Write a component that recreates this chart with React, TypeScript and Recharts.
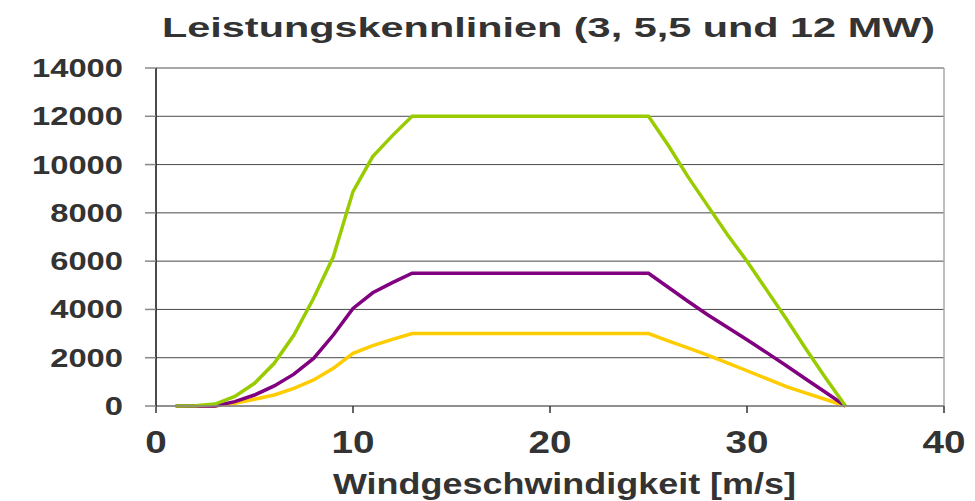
import { LineChart, Line, XAxis, YAxis, CartesianGrid, ReferenceLine } from "recharts";

// Windgeschwindigkeit in m/s
const speeds = [
  1, 2, 3, 4, 5, 6, 7, 8, 9, 10, 11, 12, 13, 14, 15, 16, 17, 18,
  19, 20, 21, 22, 23, 24, 25, 26, 27, 28, 29, 30, 31, 32, 33, 34, 35,
];

// Leistung in kW
const power12MW = [
  0, 10, 80, 400, 940, 1770, 2940, 4460, 6180, 8880, 10330, 11200, 12000, 12000, 12000, 12000, 12000, 12000,
  12000, 12000, 12000, 12000, 12000, 12000, 12000, 10800, 9500, 8300, 7100, 6000, 4800, 3600, 2350, 1150, 0,
];
const power55MW = [
  0, 0, 0, 180, 455, 830, 1320, 1970, 2940, 4040, 4690, 5110, 5500, 5500, 5500, 5500, 5500, 5500,
  5500, 5500, 5500, 5500, 5500, 5500, 5500, 4920, 4340, 3780, 3260, 2740, 2210, 1670, 1110, 560, 0,
];
const power3MW = [
  0, 0, 0, 110, 280, 455, 730, 1080, 1560, 2180, 2500, 2760, 3000, 3000, 3000, 3000, 3000, 3000,
  3000, 3000, 3000, 3000, 3000, 3000, 3000, 2700, 2410, 2110, 1790, 1460, 1130, 800, 530, 270, 0,
];

const xTicks = [0, 10, 20, 30, 40];
const yTicks = [0, 2000, 4000, 6000, 8000, 10000, 12000, 14000];

const title = "Leistungskennlinien (3, 5,5 und 12 MW)";
const xTitle = "Windgeschwindigkeit [m/s]";

const data = speeds.map((x, i) => ({
  x,
  p3: power3MW[i],
  p55: power55MW[i],
  p12: power12MW[i],
}));

const FONT = "'Liberation Sans', Arial, sans-serif";
const TEXT = "#333333";

function YTick({ y, payload }: any) {
  const s = String(payload.value);
  return (
    <text
      x={123}
      y={y + 9}
      textAnchor="end"
      fontFamily={FONT}
      fontWeight="bold"
      fontSize={25}
      fill={TEXT}
      textLength={s.length * 18.2}
      lengthAdjust="spacingAndGlyphs"
    >
      {s}
    </text>
  );
}

function XTick({ x, payload }: any) {
  const s = String(payload.value);
  return (
    <text
      x={x}
      y={453}
      textAnchor="middle"
      fontFamily={FONT}
      fontWeight="bold"
      fontSize={32}
      fill={TEXT}
      textLength={s.length * 21.5}
      lengthAdjust="spacingAndGlyphs"
    >
      {s}
    </text>
  );
}

export default function App() {
  return (
    <div style={{ position: "absolute", left: 0, top: 0, width: 975, height: 501, background: "#fff" }}>
      <LineChart
        width={975}
        height={501}
        data={data}
        margin={{ top: 68, right: 31, bottom: 55, left: 76 }}
      >
        <CartesianGrid horizontal vertical={false} stroke="#4a4a4a" strokeWidth={1} />
        <XAxis
          type="number"
          dataKey="x"
          domain={[0, 40]}
          ticks={xTicks}
          height={40}
          tickSize={7}
          axisLine={{ stroke: "#8a8a8a", strokeWidth: 1.5 }}
          tickLine={{ stroke: "#333", strokeWidth: 1.5 }}
          tick={<XTick />}
          interval={0}
        />
        <YAxis
          type="number"
          domain={[0, 14000]}
          ticks={yTicks}
          width={80}
          tickSize={11}
          axisLine={{ stroke: "#111", strokeWidth: 1.5 }}
          tickLine={{ stroke: "#888", strokeWidth: 1.5 }}
          tick={<YTick />}
          interval={0}
        />
        <ReferenceLine y={14000} stroke="#a8a8a8" strokeWidth={1.5} />
        <ReferenceLine x={40} stroke="#a8a8a8" strokeWidth={1.5} />
        <Line type="linear" dataKey="p3" stroke="#FFCC00" strokeWidth={3.5} dot={false} isAnimationActive={false} />
        <Line type="linear" dataKey="p55" stroke="#800080" strokeWidth={3.5} dot={false} isAnimationActive={false} />
        <Line type="linear" dataKey="p12" stroke="#99CC00" strokeWidth={3.5} dot={false} isAnimationActive={false} />
      </LineChart>
      <svg
        width={975}
        height={501}
        style={{ position: "absolute", left: 0, top: 0, pointerEvents: "none" }}
      >
        <text
          x={162}
          y={37}
          fontFamily={FONT}
          fontWeight="bold"
          fontSize={27}
          fill={TEXT}
          textLength={773}
          lengthAdjust="spacingAndGlyphs"
        >
          {title}
        </text>
        <text
          x={333}
          y={494}
          fontFamily={FONT}
          fontWeight="bold"
          fontSize={29}
          fill={TEXT}
          textLength={463}
          lengthAdjust="spacingAndGlyphs"
        >
          {xTitle}
        </text>
      </svg>
    </div>
  );
}
